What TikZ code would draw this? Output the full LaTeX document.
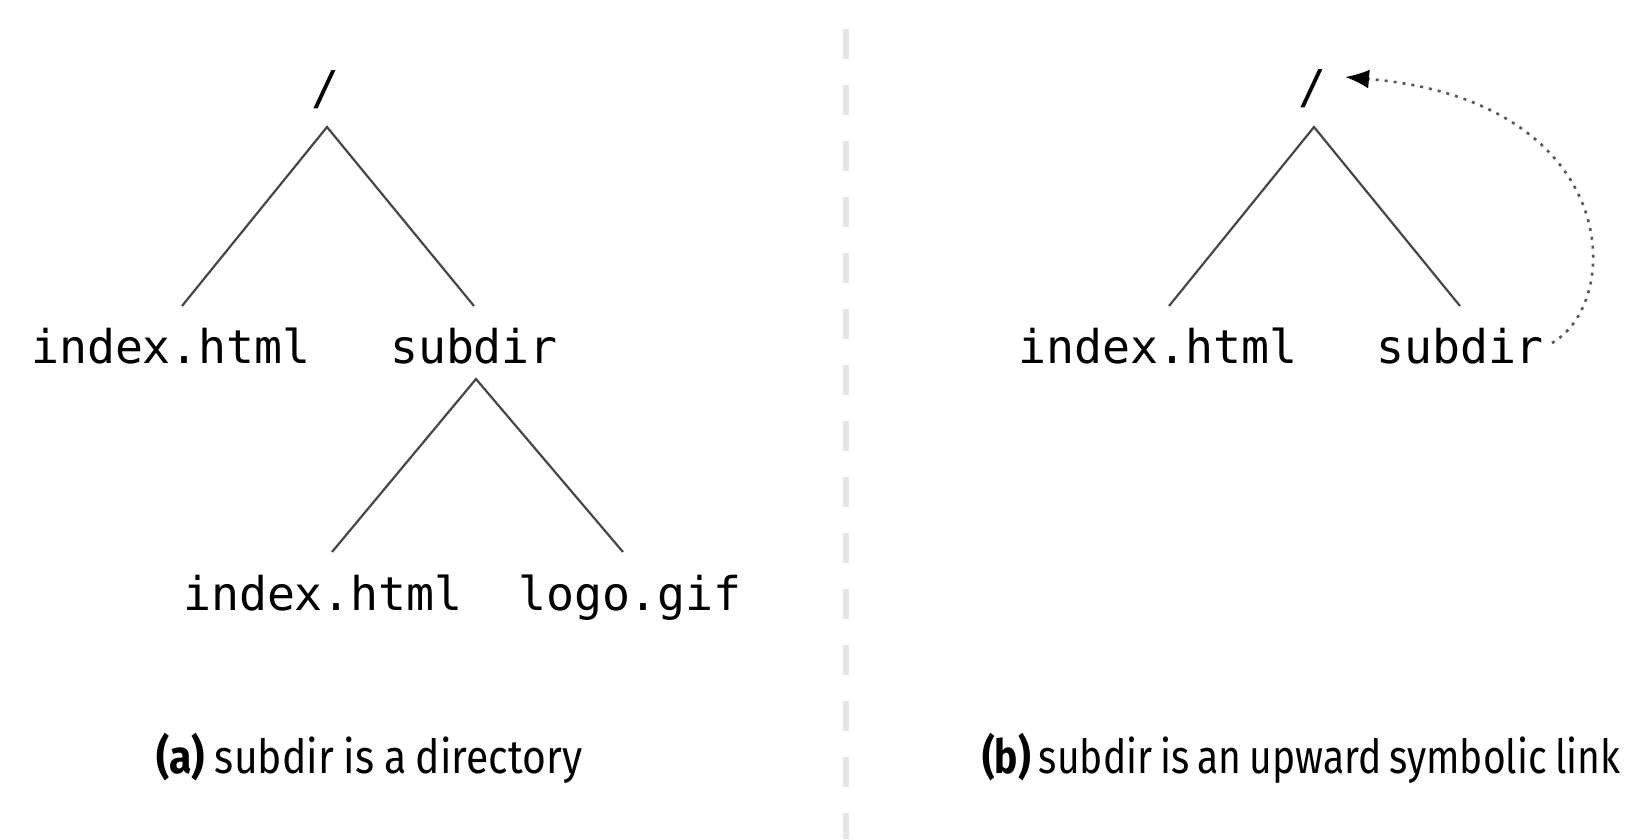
\documentclass[tikz,border=0pt]{standalone}
\usepackage{fontspec}
\usetikzlibrary{arrows.meta,calc}
\newfontfamily\treemono{DejaVu Sans Mono}
\newfontfamily\capfont[FakeStretch=0.83,WordSpace=0.78]{Fira Sans}
\newfontfamily\capfontwide[FakeStretch=0.87,WordSpace=0.9]{Fira Sans}
\begin{document}
\begin{tikzpicture}[x=1pt,y=-1pt,
  mono/.style={font=\treemono\fontsize{46.5}{50}\selectfont, inner sep=0pt, anchor=base, text=black},
  captext/.style={font=\capfont\fontsize{47}{50}\selectfont, inner sep=0pt, anchor=base west, text=black},
  edge/.style={draw=black!72, line width=2.2pt},
  link/.style={draw=black!65, line width=2.6pt, dash pattern=on 3pt off 6pt, -{Latex[length=24pt,width=19pt,fill=black,color=black]}},
  sepline/.style={draw=black!10, line width=6pt, dash pattern=on 30pt off 26pt}]
\useasboundingbox[fill=white] (0,0) rectangle (1627,839);
% separator
\coordinate (septop) at (846,29);
\coordinate (sepbot) at (846,839);
\draw[sepline] (septop) -- (sepbot);
% left tree
\node[mono] (ra) at (325,104) {/};
\node[mono] (ia) at (171,363) {index.html};
\node[mono] (sa) at (474,363) {subdir};
\node[mono] (ib) at (323,610) {index.html};
\node[mono] (lg) at (630,610) {logo.gif};
\draw[edge] ($(ia.base)+(11,-57)$) -- ($(ra.base)+(2,23)$) -- ($(sa.base)+(0,-57)$);
\draw[edge] ($(ib.base)+(9,-58)$) -- ($(sa.base)+(2,16)$) -- ($(lg.base)+(-7,-58)$);
\node[captext, font=\capfontwide\fontsize{47}{50}\selectfont] (capa) at (156,773) {\textbf{(a)} subdir is a directory};
% right tree
\node[mono] (rb) at (1312,103) {/};
\node[mono] (ic) at (1158,363) {index.html};
\node[mono] (sb) at (1460,363) {subdir};
\draw[edge] ($(ic.base)+(11,-57)$) -- ($(rb.base)+(2,24)$) -- ($(sb.base)+(0,-57)$);
\draw[link] ($(sb.base)+(92,-20)$) .. controls (1626,300) and (1620,100) .. ($(rb.base)+(33,-26)$);
\node[captext] (capb) at (982,773) {\textbf{(b)} subdir is an upward symbolic link};
\end{tikzpicture}
\end{document}
